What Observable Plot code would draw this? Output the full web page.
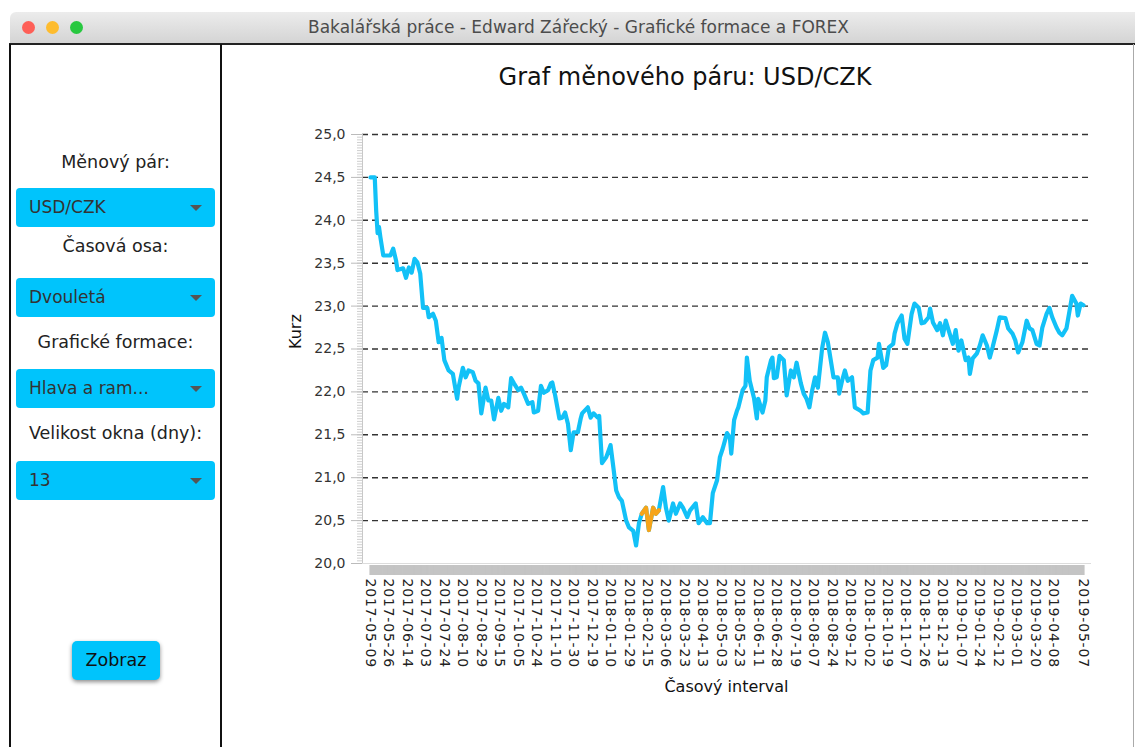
<!DOCTYPE html>
<html><head><meta charset="utf-8">
<script src="https://cdn.jsdelivr.net/npm/d3@7"></script>
<script src="https://cdn.jsdelivr.net/npm/@observablehq/plot@0.6"></script>
<style>
body{margin:0;width:1135px;height:747px;overflow:hidden;background:#fff;font-family:"DejaVu Sans",sans-serif;position:relative}
#titlebar{position:absolute;left:10px;top:12px;width:1125px;height:31px;background:linear-gradient(#ececec,#d4d4d4);border-top-left-radius:6px}
.light{position:absolute;top:9px;width:13px;height:13px;border-radius:50%}
#wintitle{position:absolute;left:0;right:0;top:0;line-height:31px;text-align:center;font-size:17px;color:#4c4c4c;padding-left:12px}
#topline{position:absolute;left:9px;top:43px;width:1126px;height:2px;background:#222}
#rightline{position:absolute;left:1133px;top:44px;width:1px;height:703px;background:#aaa}
#sidebar{position:absolute;left:9px;top:44px;width:209px;height:710px;border-left:2px solid #111;border-right:2px solid #111}
.lab{position:absolute;left:0;width:209px;text-align:center;font-size:17.5px;line-height:20px;color:#222}
.combo{position:absolute;left:5px;width:199px;height:39px;background:#00c4fc;border-radius:4px}
.combo span{position:absolute;left:13px;top:0;line-height:39px;font-size:17px;color:#333}
.combo i{position:absolute;right:13px;top:17px;width:0;height:0;border-left:6px solid transparent;border-right:6px solid transparent;border-top:6px solid #555}
#btn{position:absolute;left:61px;top:597px;width:88px;height:39px;background:#00c4fc;border-radius:5px;box-shadow:0 2px 4px rgba(0,0,0,.45);text-align:center;line-height:39px;font-size:17.5px;color:#111}
#charttitle{position:absolute;left:240px;width:890px;top:62px;text-align:center;font-size:24px;line-height:30px;color:#111}
#chart{position:absolute;left:222px;top:44px}
</style></head>
<body>
<div id="titlebar">
  <div class="light" style="left:12px;background:#fe5f57"></div>
  <div class="light" style="left:36px;background:#febc2e"></div>
  <div class="light" style="left:60px;background:#28c840"></div>
  <div id="wintitle">Bakalářská práce - Edward Zářecký - Grafické formace a FOREX</div>
</div>
<div id="topline"></div>
<div id="rightline"></div>
<div id="sidebar">
  <div class="lab" style="top:108px">Měnový pár:</div>
  <div class="combo" style="top:144px"><span>USD/CZK</span><i></i></div>
  <div class="lab" style="top:192px">Časová osa:</div>
  <div class="combo" style="top:234px"><span>Dvouletá</span><i></i></div>
  <div class="lab" style="top:288px">Grafické formace:</div>
  <div class="combo" style="top:325px"><span>Hlava a ram...</span><i></i></div>
  <div class="lab" style="top:379px">Velikost okna (dny):</div>
  <div class="combo" style="top:417px"><span>13</span><i></i></div>
  <div id="btn">Zobraz</div>
</div>
<div id="charttitle">Graf měnového páru: USD/CZK</div>
<div id="chart"></div>
<script>
// trading-day index of each sampled point
const idx = [0,3,4,5,6,7,9,14,16,18,19,23,25,27,29,31,33,35,37,40,41,44,46,48,50,52,53,55,58,59,61,62,65,67,69,72,74,76,78,81,83,85,87,90,92,94,97,99,101,104,106,108,111,114,115,118,120,122,125,127,128,130,133,135,137,139,141,143,146,148,149,153,155,157,160,161,163,166,169,171,173,175,177,180,182,185,187,189,191,194,196,199,201,203,206,208,210,213,215,218,220,223,225,229,231,234,237,239,241,244,246,248,251,253,254,256,258,259,262,264,265,267,270,272,273,276,278,279,282,283,284,286,288,291,293,296,298,300,303,305,307,309,311,313,315,318,320,322,326,329,330,332,334,336,339,341,345,347,350,352,354,357,358,361,363,365,368,369,371,374,376,378,381,383,386,388,390,393,394,396,399,401,403,405,407,410,412,414,416,419,421,422,424,427,429,431,434,436,438,441,443,447,449,452,454,456,459,462,464,466,469,471,473,476,478,480,483,485,487,490,492,494,497,498,500,502];
// USD/CZK rate
const kurz = [24.50,24.50,24.11,23.85,23.92,23.80,23.59,23.59,23.67,23.53,23.42,23.44,23.33,23.45,23.39,23.55,23.51,23.38,22.98,22.98,22.87,22.91,22.83,22.58,22.63,22.37,22.33,22.25,22.21,22.11,21.92,22.05,22.28,22.17,22.25,22.23,22.13,22.10,21.75,22.05,21.90,21.90,21.68,21.93,21.78,21.86,21.82,22.16,22.10,22.02,22.05,21.98,21.86,21.88,21.76,21.78,22.07,21.99,22.02,22.10,22.11,21.96,21.69,21.70,21.76,21.63,21.32,21.53,21.53,21.69,21.75,21.82,21.70,21.75,21.70,21.72,21.17,21.24,21.38,21.12,20.85,20.77,20.73,20.50,20.42,20.38,20.21,20.47,20.58,20.65,20.39,20.65,20.58,20.62,20.89,20.65,20.50,20.70,20.58,20.70,20.65,20.54,20.62,20.70,20.47,20.54,20.47,20.47,20.82,20.97,21.24,21.34,21.52,21.47,21.28,21.67,21.78,21.82,22.02,22.07,22.40,22.13,21.93,21.69,21.92,21.76,21.90,22.17,22.37,22.40,22.16,22.17,22.42,22.37,21.96,22.25,22.17,22.34,22.10,21.98,21.92,21.82,22.02,22.17,22.05,22.51,22.69,22.58,22.17,22.17,21.98,22.13,22.25,22.13,22.17,21.82,21.78,21.75,21.76,22.25,22.37,22.40,22.56,22.28,22.31,22.52,22.56,22.68,22.80,22.89,22.62,22.56,22.91,23.03,22.98,22.80,22.81,22.87,22.97,22.81,22.72,22.80,22.66,22.83,22.72,22.56,22.72,22.48,22.60,22.37,22.40,22.21,22.39,22.45,22.54,22.66,22.54,22.40,22.52,22.72,22.87,22.86,22.74,22.68,22.60,22.46,22.58,22.83,22.74,22.72,22.56,22.54,22.75,22.91,22.98,22.87,22.75,22.69,22.66,22.74,22.93,23.12,23.03,22.89,23.03,23.01];
// detected head-and-shoulders window (trading-day indices)
const formaceOd = 191, formaceDo = 203;
// x tick labels and their trading-day indices
const tickIdx = [0,13,26,39,52,65,78,91,104,117,130,143,156,169,182,195,208,221,234,247,260,273,286,299,312,325,338,351,364,377,390,403,416,429,442,455,468,481,502];
const tickLabels = ["2017-05-09","2017-05-26","2017-06-14","2017-07-03","2017-07-24","2017-08-10","2017-08-29","2017-09-15","2017-10-05","2017-10-24","2017-11-10","2017-11-30","2017-12-19","2018-01-10","2018-01-29","2018-02-15","2018-03-06","2018-03-23","2018-04-13","2018-05-03","2018-05-23","2018-06-11","2018-06-28","2018-07-19","2018-08-07","2018-08-24","2018-09-12","2018-10-02","2018-10-19","2018-11-07","2018-11-26","2018-12-13","2019-01-07","2019-01-24","2019-02-12","2019-03-01","2019-03-20","2019-04-08","2019-05-07"];
const yTicks = [20,20.5,21,21.5,22,22.5,23,23.5,24,24.5,25];
const gridTicks = yTicks.slice(1);

const data = idx.map((i, k) => ({i, v: kurz[k]}));
const pattern = data.filter(d => d.i >= formaceOd && d.i <= formaceDo);
const lastIdx = tickIdx[tickIdx.length - 1];
const allIdx = d3.range(0, lastIdx + 1);
const minorTicks = d3.range(20, 25.0001, 0.03125);
const fmt = d => d.toFixed(1).replace(".", ",");
const blank = () => "";

const chart = Plot.plot({
  width: 913, height: 703,
  marginLeft: 140, marginRight: 45, marginTop: 90, marginBottom: 184,
  style: {fontFamily: "DejaVu Sans", background: "transparent", overflow: "visible"},
  x: {type: "linear", domain: [0, lastIdx], insetLeft: 8, insetRight: 7},
  y: {domain: [20, 25]},
  marks: [
    Plot.gridY(gridTicks, {stroke: "#333", strokeOpacity: 1, strokeWidth: 1.4, strokeDasharray: "6,4"}),
    Plot.axisY(minorTicks, {tickSize: 5, tickFormat: blank, stroke: "#cfcfcf", label: null}),
    Plot.axisY(yTicks, {tickSize: 11, tickPadding: 6, tickFormat: fmt, fontSize: 14, fill: "#333", stroke: "#bbb", label: null}),
    Plot.frame({anchor: "left", stroke: "#c8c8c8"}),
    Plot.frame({anchor: "bottom", stroke: "#dcdcdc"}),
    Plot.axisX(allIdx, {tickSize: 10, dy: 2, tickFormat: blank, stroke: "#c4c4c4", strokeWidth: 2.2, label: null}),
    Plot.axisX(tickIdx, {tickSize: 0, tickPadding: 15, tickRotate: 90, tickFormat: i => tickLabels[tickIdx.indexOf(i)], fontSize: 14, fill: "#222", label: null}),
    Plot.text(["Kurz"], {frameAnchor: "left", rotate: -90, dx: -67, fontSize: 16, fill: "#111"}),
    Plot.text(["Časový interval"], {frameAnchor: "bottom", dy: 128, fontSize: 16, fill: "#111"}),
    Plot.line(data, {x: "i", y: "v", stroke: "#12c1f7", strokeWidth: 4.2, strokeLinejoin: "round"}),
    Plot.line(pattern, {x: "i", y: "v", stroke: "#f7a418", strokeWidth: 4.2, strokeLinejoin: "round"})
  ]
});
document.getElementById("chart").append(chart);
// slightly spaced date labels as in the reference
d3.select(chart).selectAll("text").filter(function() { return /^\d{4}-\d\d-\d\d$/.test(this.textContent); })
  .style("letter-spacing", "0.8px");
</script>
</body></html>
